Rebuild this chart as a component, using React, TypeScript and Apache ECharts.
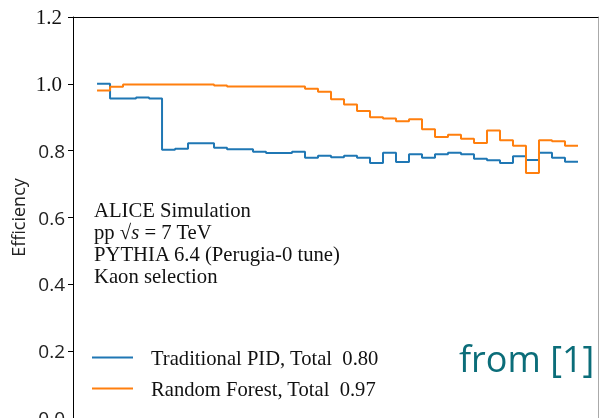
import { useEffect, useRef } from "react";
import * as echarts from "echarts";

// Bin edges (bin index units; the x axis labels are outside the visible crop)
const binEdges = [
  0, 1, 2, 3, 4, 5, 6, 7, 8, 9, 10, 11, 12, 13, 14, 15, 16, 17, 18, 19, 20,
  21, 22, 23, 24, 25, 26, 27, 28, 29, 30, 31, 32, 33, 34, 35, 36, 37,
];

const traditionalPID = [
  1.0, 0.956, 0.956, 0.959, 0.956, 0.803, 0.806, 0.822, 0.822, 0.809, 0.804,
  0.804, 0.797, 0.793, 0.793, 0.797, 0.779, 0.785, 0.78, 0.785, 0.779, 0.763,
  0.794, 0.766, 0.789, 0.779, 0.789, 0.794, 0.789, 0.776, 0.771, 0.763, 0.783,
  0.772, 0.794, 0.779, 0.767,
];

const randomForest = [
  0.98, 0.991, 0.998, 0.998, 0.998, 0.998, 0.998, 0.998, 0.998, 0.995, 0.992,
  0.992, 0.992, 0.992, 0.992, 0.992, 0.985, 0.976, 0.954, 0.938, 0.919, 0.9,
  0.896, 0.888, 0.894, 0.864, 0.841, 0.848, 0.836, 0.823, 0.86, 0.831, 0.815,
  0.733, 0.831, 0.828, 0.815,
];

const seriesNames = [
  "Traditional PID, Total  0.80",
  "Random Forest, Total  0.97",
];
const seriesColors = ["#1f77b4", "#ff7f0e"];

const annotationLines = [
  "ALICE Simulation",
  "pp {sq|√}{it|s} = 7 TeV",
  "PYTHIA 6.4 (Perugia-0 tune)",
  "Kaon selection",
];

const yMin = 0;
const yMax = 1.2;
const yStep = 0.2;
// tick labels at or above this value are drawn in the serif face (as in the reference)
const serifLabelFrom = 0.99;

function toSteps(values: number[]) {
  return binEdges.map((x, i) => [x, values[Math.min(i, values.length - 1)]]);
}

export default function App() {
  const ref = useRef<HTMLDivElement>(null);
  useEffect(() => {
    if (!ref.current) return;
    const chart = echarts.init(ref.current, undefined, { renderer: "svg" });
    const xMin = -1.85;
    const xMax = 38.54;
    const serif = "Liberation Serif";
    const sans = "Open Sans";
    const hiddenX = (position: string) => ({
      type: "value",
      min: xMin,
      max: xMax,
      position,
      axisLine: {
        show: true,
        onZero: false,
        lineStyle: { color: "#000", width: 1 },
      },
      axisTick: { show: false },
      axisLabel: { show: false },
      splitLine: { show: false },
    });
    const leftY = (
      showLine: boolean,
      labelFormatter: (v: number) => string,
      labelStyle: any,
      extra: any = {}
    ) => ({
      type: "value",
      min: yMin,
      max: yMax,
      interval: yStep,
      position: "left",
      axisLine: {
        show: showLine,
        onZero: false,
        lineStyle: { color: "#000", width: 1 },
      },
      axisTick: {
        show: showLine,
        length: 5,
        inside: false,
        lineStyle: { color: "#000", width: 1 },
      },
      axisLabel: { formatter: labelFormatter, ...labelStyle },
      splitLine: { show: false },
      ...extra,
    });
    chart.setOption({
      animation: false,
      grid: {
        left: 73,
        top: 17,
        width: 525,
        height: 401,
        containLabel: false,
        outerBoundsMode: "none",
      },
      xAxis: [hiddenX("bottom"), hiddenX("top")],
      yAxis: [
        leftY(
          true,
          (v: number) => (v < serifLabelFrom ? v.toFixed(1) : ""),
          { margin: 8, fontFamily: sans, fontSize: 19, color: "#222" },
          {
            name: "Efficiency",
            nameLocation: "middle",
            nameRotate: 90,
            nameGap: 46,
            nameTextStyle: { fontFamily: sans, fontSize: 18, color: "#222" },
          }
        ),
        leftY(
          false,
          (v: number) => (v >= serifLabelFrom ? v.toFixed(1) : ""),
          { margin: 11, fontFamily: serif, fontSize: 21, color: "#111" }
        ),
        {
          type: "value",
          min: yMin,
          max: yMax,
          position: "right",
          axisLine: {
            show: true,
            onZero: false,
            lineStyle: { color: "#aaa", width: 1 },
          },
          axisTick: { show: false },
          axisLabel: { show: false },
          splitLine: { show: false },
        },
      ],
      legend: {
        orient: "vertical",
        left: 92,
        top: 347,
        padding: 0,
        icon: "rect",
        itemWidth: 41,
        itemHeight: 2,
        itemGap: 10,
        data: seriesNames,
        textStyle: {
          fontFamily: serif,
          fontSize: 20.6,
          lineHeight: 20,
          color: "#111",
          padding: [0, 0, 0, 13],
        },
      },
      series: [
        {
          name: seriesNames[0],
          type: "line",
          step: "end",
          symbol: "none",
          showSymbol: false,
          color: seriesColors[0],
          lineStyle: { width: 2, color: seriesColors[0] },
          data: toSteps(traditionalPID),
          z: 2,
        },
        {
          name: seriesNames[1],
          type: "line",
          step: "end",
          symbol: "none",
          showSymbol: false,
          color: seriesColors[1],
          lineStyle: { width: 2, color: seriesColors[1] },
          data: toSteps(randomForest),
          z: 3,
        },
      ],
      graphic: [
        {
          type: "text",
          left: 94,
          top: 199,
          style: {
            text: annotationLines.join("\n"),
            fontFamily: serif,
            fontSize: 20.7,
            lineHeight: 22,
            fill: "#111",
            rich: {
              sq: { fontFamily: serif, fontSize: 20.7, fill: "#111" },
              it: {
                fontFamily: serif,
                fontSize: 20.7,
                fontStyle: "italic",
                fill: "#111",
              },
            },
          },
        },
        {
          type: "text",
          left: 459,
          top: 340,
          style: {
            text: "from [1]",
            fontFamily: sans,
            fontSize: 36,
            fill: "#0b6d79",
          },
        },
      ],
    });
    return () => chart.dispose();
  }, []);
  return (
    <div
      ref={ref}
      style={{ position: "fixed", left: 0, top: 0, width: 604, height: 418 }}
    />
  );
}
